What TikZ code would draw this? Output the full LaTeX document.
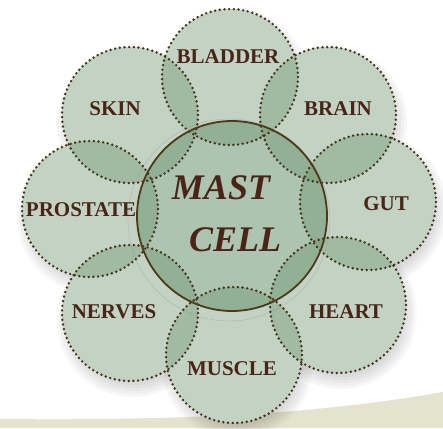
\documentclass[tikz,border=0pt]{standalone}
\usepackage{fontspec}
\setmainfont{Liberation Serif}
\definecolor{petalgreen}{HTML}{789E7A}
\definecolor{coregreen}{HTML}{6A9470}
\definecolor{dotbrown}{HTML}{46301A}
\definecolor{rimbrown}{HTML}{4E3818}
\definecolor{txtbrown}{HTML}{4A2416}
\definecolor{bandkhaki}{HTML}{E4E4CE}
\begin{document}
\begin{tikzpicture}[x=1pt,y=-1pt,
  petal/.style={fill=petalgreen, fill opacity=0.45},
  dotline/.style={draw=dotbrown, line width=2.7pt, line cap=round, dash pattern=on 0pt off 4.7pt},
  lbl/.style={text=txtbrown, font=\bfseries\fontsize{21}{21}\selectfont, inner sep=0pt},
  corelbl/.style={text=txtbrown, font=\bfseries\itshape\fontsize{36}{36}\selectfont, inner sep=0pt},
]
\useasboundingbox (0,0) rectangle (443,428);
% background band
\fill[bandkhaki] (0,419) .. controls (200,421) and (330,412) .. (443,392) -- (443,428) -- (0,428) -- cycle;

% centres
\coordinate (core) at (232,216);
\coordinate (bl) at (230,77);
\coordinate (br) at (328,115);
\coordinate (gu) at (368,202);
\coordinate (he) at (338,305);
\coordinate (mu) at (234,355);
\coordinate (ne) at (130,313);
\coordinate (pr) at (90,209);
\coordinate (sk) at (130,115);

% soft shadows
\foreach \c in {bl,br,gu,he,mu,ne,pr,sk}{
  \foreach \r in {58,61,...,76}{
    \fill[black, opacity=0.03] ([shift={(3,8)}]\c) circle (\r);
  }
}
% white base so shadows only show outside
\foreach \c in {bl,br,gu,he,mu,ne,pr,sk}{
  \fill[white] (\c) circle (68);
}
\fill[white] (core) circle (95);

% translucent fills
\foreach \c in {bl,br,gu,he,mu,ne,pr,sk}{
  \fill[petal] (\c) circle (68);
}
\fill[coregreen, fill opacity=0.55] (core) circle (95);

% faint decorative ring
\draw[gray, opacity=0.35, line width=0.4pt] ([shift={(-3,4)}]core) circle (101);

% dotted rims
\foreach \c in {bl,br,gu,he,mu,ne,pr,sk}{
  \draw[dotline] (\c) circle (68);
}
\draw[rimbrown, line width=1.8pt] (core) circle (95);

% labels
\node[lbl] (tbl) at (228,57) {BLADDER};
\node[lbl] (tsk) at (115,109) {SKIN};
\node[lbl] (tbr) at (338,109) {BRAIN};
\node[lbl] (tpr) at (81,210) {PROSTATE};
\node[lbl] (tgu) at (386,204) {GUT};
\node[lbl] (tne) at (114,312) {NERVES};
\node[lbl] (the) at (346,312) {HEART};
\node[lbl] (tmu) at (232,369) {MUSCLE};
\node[corelbl] (tmast) at (221,188) {MAST};
\node[corelbl] (tcell) at (235,240) {CELL};
\end{tikzpicture}
\end{document}
